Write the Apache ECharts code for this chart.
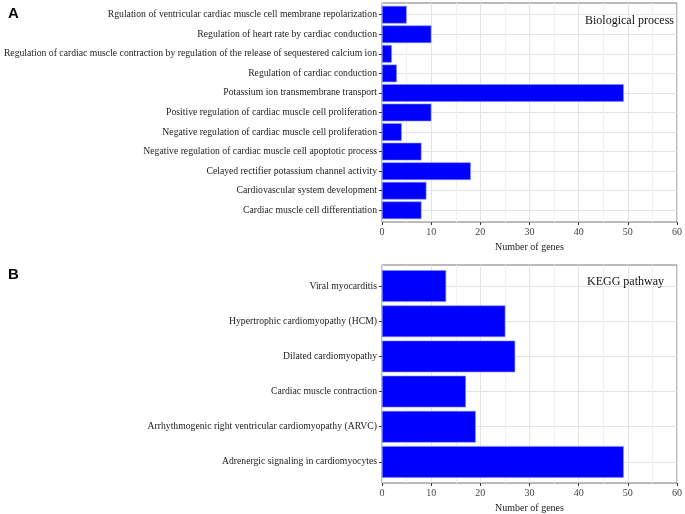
<!DOCTYPE html>
<html><head><meta charset="utf-8">
<script src="https://cdn.jsdelivr.net/npm/echarts@6/dist/echarts.min.js"></script>
<style>html,body{margin:0;padding:0;background:#fff}#c{width:685px;height:514px}</style>
</head><body><div id="c"></div>
<script>
const bpCategories = [
  "Rgulation of ventricular cardiac muscle cell membrane repolarization",
  "Regulation of heart rate by cardiac conduction",
  "Regulation of cardiac muscle contraction by regulation of the release of sequestered calcium ion",
  "Regulation of cardiac conduction",
  "Potassium ion transmembrane transport",
  "Positive regulation of cardiac muscle cell proliferation",
  "Negative regulation of cardiac muscle cell proliferation",
  "Negative regulation of cardiac muscle cell apoptotic process",
  "Celayed rectifier potassium channel activity",
  "Cardiovascular system development",
  "Cardiac muscle cell differentiation"
];
const bpValues = [5, 10, 2, 3, 49, 10, 4, 8, 18, 9, 8];
const keggCategories = [
  "Viral myocarditis",
  "Hypertrophic cardiomyopathy (HCM)",
  "Dilated cardiomyopathy",
  "Cardiac muscle contraction",
  "Arrhythmogenic right ventricular cardiomyopathy (ARVC)",
  "Adrenergic signaling in cardiomyocytes"
];
const keggValues = [13, 25, 27, 17, 19, 49];
const xTicks = [0, 10, 20, 30, 40, 50, 60];

const serif = '"Liberation Serif", "DejaVu Serif", serif';
const chart = echarts.init(document.getElementById('c'), null, {renderer: 'canvas'});

// panel frames (outer) and inner band area with ggplot-like 0.6-unit discrete expansion
function panel(top, height, n) {
  const unit = height / (n + 0.2);
  return {
    outer: {left: 382, right: 7, top: top, height: height, show: true, borderColor: '#777', borderWidth: 1, backgroundColor: '#fff'},
    inner: {left: 382, right: 7, top: top + unit * 0.1, height: unit * n}
  };
}
const pA = panel(3, 219, bpCategories.length);
const pB = panel(265, 218, keggCategories.length);

function xAxisOuter(gi) {
  return {
    type: 'value', gridIndex: gi, min: xTicks[0], max: xTicks[xTicks.length - 1], interval: 10,
    name: 'Number of genes', nameLocation: 'middle', nameGap: 20,
    nameTextStyle: {fontFamily: serif, fontSize: 10, color: '#222'},
    axisLine: {show: false},
    axisTick: {show: true, length: 3, lineStyle: {color: '#333'}},
    axisLabel: {fontFamily: serif, fontSize: 10, color: '#444', margin: 5},
    splitLine: {show: true, lineStyle: {color: '#e3e3e3', width: 1}},
    minorTick: {show: false, splitNumber: 2},
    minorSplitLine: {show: true, lineStyle: {color: '#f1f1f1', width: 1}}
  };
}
function xAxisInner(gi) {
  return {
    type: 'value', gridIndex: gi, min: xTicks[0], max: xTicks[xTicks.length - 1], interval: 10,
    show: false, splitLine: {show: false}
  };
}
function yAxisOuter(gi) {
  return {type: 'value', gridIndex: gi, min: 0, max: 1, show: false, splitLine: {show: false}};
}
function yAxisInner(gi, cats) {
  return {
    type: 'category', gridIndex: gi, data: cats, inverse: true,
    axisLine: {show: false},
    axisTick: {show: true, length: 3, alignWithLabel: true, lineStyle: {color: '#333'}},
    axisLabel: {fontFamily: serif, fontSize: 9.7, color: '#222', margin: 5, interval: 0},
    splitLine: {show: true, alignWithLabel: true, lineStyle: {color: '#e3e3e3', width: 1}}
  };
}
const barStyle = {color: '#0000ff', borderColor: '#7f8cff', borderWidth: 0.6};

chart.setOption({
  animation: false,
  backgroundColor: '#fff',
  title: [
    {text: 'A', left: 3, top: 1, textStyle: {fontFamily: '"Liberation Sans", Arial, sans-serif', fontWeight: 'bold', fontSize: 15, color: '#000'}},
    {text: 'B', left: 3, top: 262, textStyle: {fontFamily: '"Liberation Sans", Arial, sans-serif', fontWeight: 'bold', fontSize: 15, color: '#000'}},
    {text: 'Biological process', left: 580, top: 10, textStyle: {fontFamily: serif, fontWeight: 'normal', fontSize: 12, color: '#111'}},
    {text: 'KEGG pathway', left: 582, top: 271, textStyle: {fontFamily: serif, fontWeight: 'normal', fontSize: 12, color: '#111'}}
  ],
  grid: [pA.outer, pA.inner, pB.outer, pB.inner],
  xAxis: [xAxisOuter(0), xAxisInner(1), xAxisOuter(2), xAxisInner(3)],
  yAxis: [yAxisOuter(0), yAxisInner(1, bpCategories), yAxisOuter(2), yAxisInner(3, keggCategories)],
  series: [
    {type: 'bar', xAxisIndex: 1, yAxisIndex: 1, data: bpValues, barCategoryGap: '10%', itemStyle: barStyle},
    {type: 'bar', xAxisIndex: 3, yAxisIndex: 3, data: keggValues, barCategoryGap: '10%', itemStyle: barStyle}
  ]
});
</script>
</body></html>
